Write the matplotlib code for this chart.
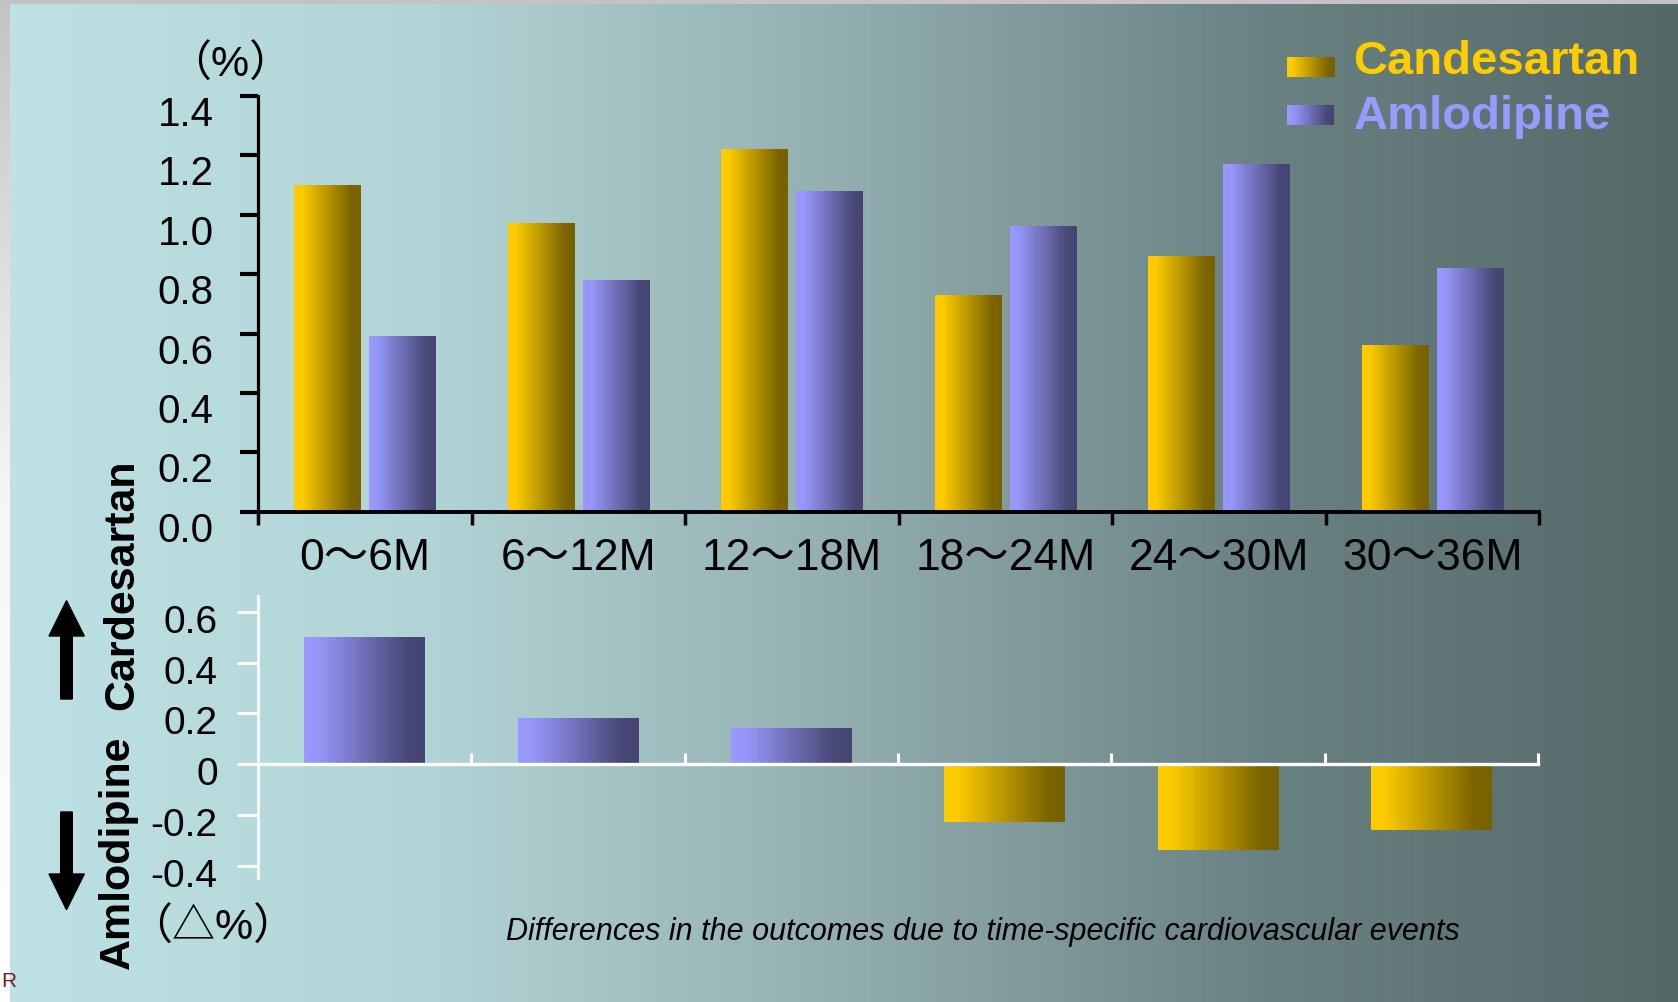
import numpy as np
import matplotlib.pyplot as plt
from matplotlib import font_manager as fm
from matplotlib.colors import LinearSegmentedColormap
from matplotlib.patches import Polygon
from matplotlib.transforms import ScaledTranslation, blended_transform_factory

W, H = 1678, 1003

# data
periods = ['0～6M', '6～12M', '12～18M', '18～24M', '24～30M', '30～36M']
candesartan = [1.10, 0.97, 1.22, 0.73, 0.86, 0.56]
amlodipine = [0.59, 0.78, 1.08, 0.96, 1.17, 0.82]
difference = [0.50, 0.18, 0.14, -0.23, -0.34, -0.26]

rate_ticks = [0.0, 0.2, 0.4, 0.6, 0.8, 1.0, 1.2, 1.4]
rate_ticklabels = ['0.0', '0.2', '0.4', '0.6', '0.8', '1.0', '1.2', '1.4']
diff_ticks = [-0.4, -0.2, 0.0, 0.2, 0.4, 0.6]
diff_ticklabels = ['-0.4', '-0.2', '0', '0.2', '0.4', '0.6']

SANS = ['Liberation Sans', 'Noto Sans CJK JP', 'DejaVu Sans']
# the slide used a narrow face; use it if it is there, otherwise shrink the caption
installed = {f.name for f in fm.fontManager.ttflist}
if 'Liberation Sans Narrow' in installed:
    NARROW = ['Liberation Sans Narrow', 'Noto Sans CJK JP']
    caption_size = 26.5
else:
    NARROW = SANS
    caption_size = 22

yellow_cm = LinearSegmentedColormap.from_list(
    'cand', [(0, '#FFCC00'), (0.12, '#FCCA00'), (0.85, '#7C6500'), (1, '#776100')])
purple_cm = LinearSegmentedColormap.from_list(
    'amlo', [(0, '#9999FF'), (0.12, '#9797FA'), (0.85, '#494978'), (1, '#454572')])
bg_cm = LinearSegmentedColormap.from_list(
    'bg', [(0, '#BDE1E4'), (0.25, '#B2D4D6'), (0.5, '#93AEB0'), (0.75, '#6A8283'), (1, '#556868')])

fig = plt.figure(figsize=(W / 100, H / 100), dpi=100, facecolor='#C3C3C3')

# slide background in pixel coordinates
bg = fig.add_axes([0, 0, 1, 1], zorder=-5)
grad = np.linspace(0, 1, 512).reshape(1, -1)
bg.imshow(grad, cmap=bg_cm, extent=[10, W, H, 5], aspect='auto', interpolation='bilinear')
strip = LinearSegmentedColormap.from_list('strip', ['#C4C4C4', '#F6F6F6', '#FFFFFF'])
bg.imshow(np.linspace(0, 1, 256).reshape(-1, 1), cmap=strip, extent=[0, 10, H, 5], aspect='auto')
bg.axis('off')
bg.text(1, 982, 'R', ha='left', va='center', fontsize=15, color='#7B1C1C', family=SANS)


def gradient_bars(ax, bars, cmaps):
    g = np.linspace(0, 1, 256).reshape(1, -1)
    for b, cm in zip(bars, cmaps):
        x0, y0 = b.get_xy()
        w, h = b.get_width(), b.get_height()
        ax.imshow(g, cmap=cm, extent=[x0, x0 + w, y0, y0 + h], aspect='auto',
                  interpolation='bilinear', zorder=2)
        b.set_visible(False)


x = np.arange(len(periods))

# ---- upper panel: event rates ----
ax1 = fig.add_axes([258 / W, 1 - 512.7 / H, (1539 - 258) / W, (512.7 - 97) / H])
ax1.patch.set_alpha(0)
bc = ax1.bar(x - 0.175, candesartan, 0.31)
ba = ax1.bar(x + 0.175, amlodipine, 0.31)
gradient_bars(ax1, bc, [yellow_cm] * len(bc))
gradient_bars(ax1, ba, [purple_cm] * len(ba))
ax1.set_xlim(-0.5, 5.5)
ax1.set_ylim(0, 1.4)
for s in ['top', 'right']:
    ax1.spines[s].set_visible(False)
ax1.spines['left'].set_linewidth(2.3)
ax1.spines['bottom'].set_linewidth(2.8)
ax1.set_yticks(rate_ticks, rate_ticklabels, fontsize=29, family=SANS)
ax1.tick_params(axis='y', length=13, width=3, pad=19)
ax1.set_xticks(np.arange(-0.5, 6, 1))
ax1.tick_params(axis='x', length=9, width=2.5, labelbottom=False)
for lab in ax1.get_yticklabels():
    lab.set_transform(lab.get_transform() + ScaledTranslation(0, -0.14, fig.dpi_scale_trans))

cat_tr = blended_transform_factory(ax1.transData, bg.transData)
for i, p in enumerate(periods):
    ax1.text(i, 559, p, transform=cat_tr, ha='center', va='center', fontsize=32, family=NARROW)

# ---- lower panel: differences ----
ax2 = fig.add_axes([258 / W, 1 - 879 / H, (1538 - 258) / W, (879 - 597) / H])
ax2.patch.set_alpha(0)
bd = ax2.bar(x, difference, 0.565)
gradient_bars(ax2, bd, [purple_cm if d > 0 else yellow_cm for d in difference])
ax2.set_xlim(-0.5, 5.5)
ax2.set_ylim(-0.449, 0.662)
for s in ['top', 'right']:
    ax2.spines[s].set_visible(False)
ax2.spines['left'].set_color('white')
ax2.spines['left'].set_linewidth(1.9)
ax2.spines['bottom'].set_position(('data', 0))
ax2.spines['bottom'].set_color('white')
ax2.spines['bottom'].set_linewidth(2.4)
ax2.set_xticks(np.arange(0.5, 6, 1))
ax2.tick_params(axis='x', direction='in', length=8, width=2.2, color='white', labelbottom=False)
ax2.set_yticks(diff_ticks, diff_ticklabels, fontsize=28, family=SANS)
ax2.tick_params(axis='y', length=15, width=2.2, color='white', pad=14)
for lab in ax2.get_yticklabels():
    lab.set_transform(lab.get_transform() + ScaledTranslation(0, -0.06, fig.dpi_scale_trans))

# ---- annotations ----
bg.text(230, 65, '（%）', ha='center', va='center', fontsize=31, family=SANS)
bg.text(213, 928, '（△%）', ha='center', va='center', fontsize=31, family=SANS)
bg.text(129, 852, 'Amlodipine', rotation=90, rotation_mode='anchor', ha='center',
        va='baseline', fontsize=31, fontweight='bold', family=SANS)
bg.text(133, 585, 'Cardesartan', rotation=90, rotation_mode='anchor', ha='center',
        va='baseline', fontsize=31, fontweight='bold', family=SANS)

# arrows
up = [(66.5, 601.7), (84.3, 637), (72.3, 637), (72.3, 700), (60.7, 700), (60.7, 637), (49, 637)]
down = [(66.5, 910.7), (84.3, 875), (72.3, 875), (72.3, 813), (60.7, 813), (60.7, 875), (49, 875)]
bg.add_patch(Polygon(up, closed=True, color='black'))
bg.add_patch(Polygon(down, closed=True, color='black'))

bg.text(983, 940, 'Differences in the outcomes due to time-specific cardiovascular events',
        ha='center', va='baseline', fontsize=caption_size, style='italic', family=NARROW)

# legend
bg.imshow(grad, cmap=yellow_cm, extent=[1287, 1335, 77.7, 57.7], aspect='auto')
bg.imshow(grad, cmap=purple_cm, extent=[1287, 1334, 126, 106.7], aspect='auto')
bg.text(1353, 74, 'Candesartan', ha='left', va='baseline', fontsize=34, fontweight='bold',
        color='#FFCC00', family=SANS)
bg.text(1354, 129, 'Amlodipine', ha='left', va='baseline', fontsize=34, fontweight='bold',
        color='#9999FF', family=SANS)
bg.set_xlim(0, W)
bg.set_ylim(H, 0)

fig.savefig('out.png', dpi=100, facecolor=fig.get_facecolor())
